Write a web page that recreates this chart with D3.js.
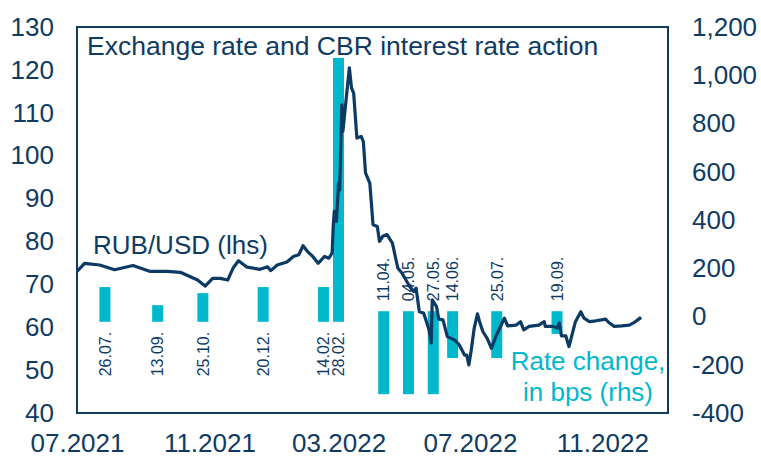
<!DOCTYPE html>
<html>
<head>
<meta charset="utf-8">
<script src="https://cdn.jsdelivr.net/npm/d3@7"></script>
<style>
  body { margin: 0; background: #fff; }
  svg text { font-family: 'Liberation Sans', Arial, sans-serif; }
</style>
</head>
<body>
<div id="chart"></div>
<script>
// RUB per USD
const rubDates = [
  '2021-07-01', '2021-07-08', '2021-07-22', '2021-08-05', '2021-08-22', '2021-09-07',
  '2021-09-23', '2021-10-05', '2021-10-21', '2021-10-28', '2021-11-04', '2021-11-11',
  '2021-11-18', '2021-11-23', '2021-11-28', '2021-12-06', '2021-12-18', '2021-12-25',
  '2021-12-28', '2022-01-03', '2022-01-12', '2022-01-18', '2022-01-23', '2022-01-27',
  '2022-01-31', '2022-02-05', '2022-02-10', '2022-02-16', '2022-02-20', '2022-02-23',
  '2022-02-24', '2022-02-25', '2022-02-27', '2022-03-01', '2022-03-02', '2022-03-04',
  '2022-03-05', '2022-03-11', '2022-03-13', '2022-03-15', '2022-03-18', '2022-03-22',
  '2022-03-24', '2022-03-26', '2022-03-30', '2022-04-02', '2022-04-06', '2022-04-08',
  '2022-04-11', '2022-04-15', '2022-04-20', '2022-04-25', '2022-04-29', '2022-05-06',
  '2022-05-10', '2022-05-12', '2022-05-15', '2022-05-19', '2022-05-24', '2022-05-26',
  '2022-05-27', '2022-05-31', '2022-06-02', '2022-06-06', '2022-06-10', '2022-06-17',
  '2022-06-21', '2022-06-26', '2022-06-28', '2022-06-30', '2022-07-02', '2022-07-05',
  '2022-07-08', '2022-07-10', '2022-07-13', '2022-07-17', '2022-07-21', '2022-07-25',
  '2022-07-28', '2022-08-02', '2022-08-05', '2022-08-13', '2022-08-17', '2022-08-20',
  '2022-08-25', '2022-09-03', '2022-09-08', '2022-09-09', '2022-09-16', '2022-09-20',
  '2022-09-22', '2022-09-24', '2022-09-28', '2022-10-01', '2022-10-03', '2022-10-07',
  '2022-10-12', '2022-10-15', '2022-10-20', '2022-10-26', '2022-10-31', '2022-11-04',
  '2022-11-07', '2022-11-12', '2022-11-19', '2022-11-26', '2022-11-30', '2022-12-07',
];
const rubValues = [
  73.0, 74.9, 74.5, 73.4, 74.4, 73.0,
  73.0, 72.8, 71.0, 69.6, 71.4, 71.4,
  71.0, 73.8, 75.5, 74.0, 73.5, 74.1,
  73.2, 74.5, 75.2, 76.5, 76.9, 79.0,
  77.7, 76.5, 74.9, 76.5, 76.1, 77.3,
  83.5, 87.0, 84.7, 93.6, 92.0, 111.9,
  105.7, 120.5, 115.8, 114.6, 104.1, 104.5,
  103.3, 96.0, 93.6, 83.9, 83.5, 80.0,
  81.2, 81.6, 79.6, 73.8, 72.6, 69.5,
  68.3, 69.1, 63.6, 63.3, 59.4, 56.3,
  66.4, 64.8, 61.9, 61.7, 57.8, 57.0,
  55.9, 53.5, 53.5, 51.2, 54.3, 59.8,
  63.1, 61.3, 59.0, 57.4, 55.1, 57.8,
  59.4, 62.1, 60.3, 60.5, 61.3, 59.4,
  60.2, 60.5, 61.3, 60.2, 60.2, 59.8,
  61.0, 58.0, 58.0, 55.5, 57.4, 61.3,
  63.6, 62.1, 61.3, 61.5, 61.7, 61.9,
  61.1, 60.2, 60.3, 60.5, 61.0, 62.3,
];

// CBR key rate moves, bps
const moveDates = [
  '2021-07-26', '2021-09-13', '2021-10-25', '2021-12-20', '2022-02-14', '2022-02-28',
  '2022-04-11', '2022-05-04', '2022-05-27', '2022-06-14', '2022-07-25', '2022-09-19',
];
const moveBps = [100, 25, 75, 100, 100, 1050, -300, -300, -300, -150, -150, -50];
const moveLabels = [
  '26.07.', '13.09.', '25.10.', '20.12.', '14.02.', '28.02.',
  '11.04.', '04.05.', '27.05.', '14.06.', '25.07.', '19.09.',
];

const lhsTicks = [40, 50, 60, 70, 80, 90, 100, 110, 120, 130];
const rhsTicks = [-400, -200, 0, 200, 400, 600, 800, 1000, 1200];
const monthTicks = ['2021-07-01', '2021-11-01', '2022-03-01', '2022-07-01', '2022-11-01'];

class RateChart {
  constructor(_config) {
    this.config = {
      parentElement: _config.parentElement,
      containerWidth: 761,
      containerHeight: 457,
      margin: { top: 27, right: 93, bottom: 44, left: 77 },
      navy: '#0f3b63',
      teal: '#00b8cc',
      fontSize: 26,
    };
    this.initVis();
  }

  initVis() {
    const vis = this;
    const m = vis.config.margin;

    vis.width = vis.config.containerWidth - m.left - m.right;
    vis.height = vis.config.containerHeight - m.top - m.bottom;

    vis.svg = d3
      .select(vis.config.parentElement)
      .append('svg')
      .attr('width', vis.config.containerWidth)
      .attr('height', vis.config.containerHeight);

    vis.chart = vis.svg
      .append('g')
      .attr('transform', `translate(${m.left},${m.top})`);

    const parse = d3.timeParse('%Y-%m-%d');

    vis.xScale = d3
      .scaleTime()
      .domain([parse('2021-07-01'), parse('2023-01-01')])
      .range([0, vis.width]);
    vis.yLeft = d3.scaleLinear().domain([40, 130]).range([vis.height, 0]);
    vis.yRight = d3.scaleLinear().domain([-400, 1200]).range([vis.height, 0]);

    vis.rub = rubDates.map((d, i) => ({ date: parse(d), value: rubValues[i] }));
    vis.moves = moveDates.map((d, i) => ({
      date: parse(d),
      bps: moveBps[i],
      label: moveLabels[i],
    }));
    vis.monthTicks = monthTicks.map(parse);

    vis.renderVis();
  }

  renderVis() {
    const vis = this;
    const navy = vis.config.navy;
    const teal = vis.config.teal;
    const fs = vis.config.fontSize;
    const pad = 5.3; // bars run a little past their value in the original

    // rate change bars
    vis.chart
      .selectAll('.move')
      .data(vis.moves)
      .join('rect')
      .attr('class', 'move')
      .attr('x', (d) => vis.xScale(d.date) - 4.5)
      .attr('width', 11)
      .attr('y', (d) => vis.yRight(Math.max(d.bps, 0)) - pad)
      .attr('height', (d) => Math.abs(vis.yRight(d.bps) - vis.yRight(0)) + 2 * pad)
      .attr('fill', teal);

    // date labels, below positive bars and above negative ones
    vis.chart
      .selectAll('.move-label')
      .data(vis.moves)
      .join('text')
      .attr('class', 'move-label')
      .attr('transform', (d) => {
        const y = d.bps > 0 ? vis.yRight(0) + pad + 10 : vis.yRight(0) - pad - 10;
        return `translate(${vis.xScale(d.date) + 1},${y}) rotate(-90)`;
      })
      .attr('text-anchor', (d) => (d.bps > 0 ? 'end' : 'start'))
      .attr('dy', '0.36em')
      .attr('font-size', 16)
      .attr('fill', navy)
      .text((d) => d.label);

    // exchange rate
    const line = d3
      .line()
      .x((d) => vis.xScale(d.date))
      .y((d) => vis.yLeft(d.value));

    vis.chart
      .append('path')
      .datum(vis.rub)
      .attr('d', line)
      .attr('fill', 'none')
      .attr('stroke', '#0b3a64')
      .attr('stroke-width', 3.2)
      .attr('stroke-linejoin', 'round');

    // frame
    vis.chart
      .append('rect')
      .attr('width', vis.width)
      .attr('height', vis.height)
      .attr('fill', 'none')
      .attr('stroke', navy)
      .attr('stroke-width', 2);

    // axes (plain hyphen for negatives, like the original)
    const rhsFormat = (d) => d3.format(',')(d).replace('\u2212', '-');

    const left = vis.chart
      .append('g')
      .call(d3.axisLeft(vis.yLeft).tickValues(lhsTicks).tickSize(0).tickPadding(23));
    const right = vis.chart
      .append('g')
      .attr('transform', `translate(${vis.width},0)`)
      .call(
        d3
          .axisRight(vis.yRight)
          .tickValues(rhsTicks)
          .tickSize(0)
          .tickPadding(24)
          .tickFormat(rhsFormat)
      );
    const bottom = vis.chart
      .append('g')
      .attr('transform', `translate(0,${vis.height})`)
      .call(
        d3
          .axisBottom(vis.xScale)
          .tickValues(vis.monthTicks)
          .tickSize(0)
          .tickPadding(21)
          .tickFormat(d3.timeFormat('%m.%Y'))
      );

    [left, right, bottom].forEach((g) => {
      g.select('.domain').remove();
      g.selectAll('text')
        .attr('font-size', fs)
        .attr('font-family', "'Liberation Sans', Arial, sans-serif")
        .attr('fill', navy);
    });

    // annotations
    vis.svg
      .append('text')
      .attr('x', 87)
      .attr('y', 55)
      .attr('font-size', 26.5)
      .attr('fill', navy)
      .text('Exchange rate and CBR interest rate action');

    vis.svg
      .append('text')
      .attr('x', 93)
      .attr('y', 254)
      .attr('font-size', fs)
      .attr('fill', navy)
      .text('RUB/USD (lhs)');

    vis.svg
      .append('text')
      .attr('x', 588)
      .attr('y', 370)
      .attr('text-anchor', 'middle')
      .attr('font-size', fs)
      .attr('fill', teal)
      .selectAll('tspan')
      .data(['Rate change,', 'in bps (rhs)'])
      .join('tspan')
      .attr('x', 588)
      .attr('dy', (d, i) => (i ? 31 : 0))
      .text((d) => d);
  }
}

new RateChart({ parentElement: '#chart' });
</script>
</body>
</html>
